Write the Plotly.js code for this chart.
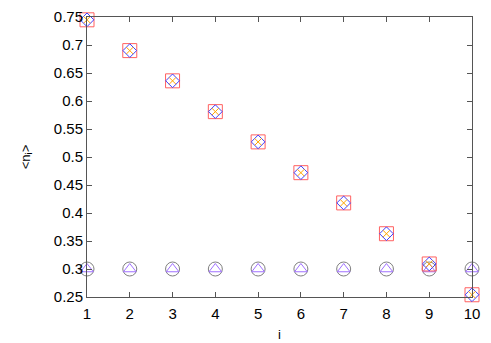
<!DOCTYPE html>
<html>
<head>
<meta charset="utf-8">
<script src="https://cdn.plot.ly/plotly-3.0.1.min.js"></script>
<style>body{margin:0;background:#fff}#plot{width:491px;height:343px}</style>
</head>
<body>
<div id="plot"></div>
<script>
// site index
let sites = [1, 2, 3, 4, 5, 6, 7, 8, 9, 10];
// decreasing occupation series
let occDecay = [0.745, 0.690, 0.636, 0.581, 0.527, 0.472, 0.418, 0.363, 0.309, 0.254];
// flat occupation series
let occFlat = [0.3, 0.3, 0.3, 0.3, 0.3, 0.3, 0.3, 0.3, 0.3, 0.3];

let yTicks = [0.25, 0.3, 0.35, 0.4, 0.45, 0.5, 0.55, 0.6, 0.65, 0.7, 0.75];
let yTickText = ['0.25', '0.3', '0.35', '0.4', '0.45', '0.5', '0.55', '0.6', '0.65', '0.7', '0.75'];

function series(y, symbol, color, size) {
    return {
        x: sites,
        y: y,
        type: 'scatter',
        mode: 'markers',
        cliponaxis: false,
        showlegend: false,
        marker: {symbol: symbol, size: size, color: color, line: {color: color, width: 1}},
    };
}

let traces = [
    series(occFlat, 'circle-open', '#808080', 14),
    series(occFlat, 'triangle-up-open', '#a070ff', 11),
    series(occDecay, 'square-open', '#ff6060', 14),
    series(occDecay, 'diamond-open', '#4040ff', 10.5),
    series(occDecay, 'x-thin-open', '#ffa500', 7),
];

let font = {family: 'Liberation Sans, Arial, sans-serif', size: 15, color: '#000'};

let axisStyle = {
    showgrid: false,
    zeroline: false,
    showline: true,
    linecolor: '#555',
    linewidth: 1,
    mirror: 'ticks',
    ticks: 'inside',
    ticklen: 5,
    tickcolor: '#555',
    tickfont: font,
};

let layout = {
    width: 491,
    height: 343,
    margin: {l: 87, r: 19, t: 17, b: 46},
    paper_bgcolor: '#fff',
    plot_bgcolor: '#fff',
    xaxis: Object.assign({}, axisStyle, {
        range: [1, 10],
        tickvals: sites,
        ticktext: sites.map(String),
        ticklabelstandoff: 3,
        title: {text: 'i', font: {family: font.family, size: 13, color: '#000'}, standoff: 8},
    }),
    yaxis: Object.assign({}, axisStyle, {
        range: [0.25, 0.75],
        tickvals: yTicks,
        ticktext: yTickText,
        title: {text: '&lt;n<sub>i</sub>&gt;', font: {family: font.family, size: 13, color: '#000'}, standoff: 20},
    }),
};

Plotly.newPlot('plot', traces, layout, {displayModeBar: false, staticPlot: true});
</script>
</body>
</html>
